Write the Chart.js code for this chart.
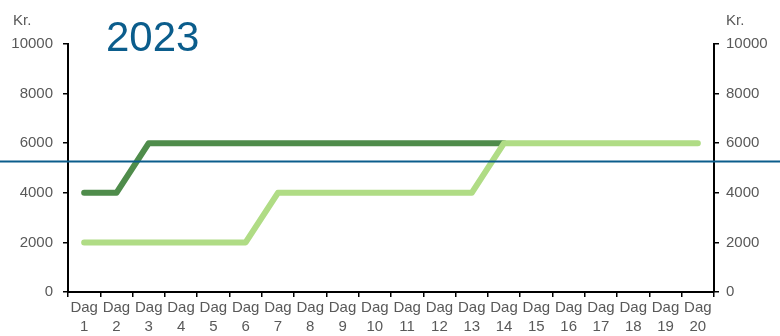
<!DOCTYPE html>
<html>
<head>
<meta charset="utf-8">
<script src="https://cdn.jsdelivr.net/npm/chart.js@4/dist/chart.umd.min.js"></script>
<style>
  html, body { margin: 0; padding: 0; background: #fff; }
  #wrap { width: 780px; height: 336px; }
</style>
</head>
<body>
<div id="wrap"><canvas id="chart"></canvas></div>
<script>
const categories = [
  ["Dag", "1"], ["Dag", "2"], ["Dag", "3"], ["Dag", "4"], ["Dag", "5"],
  ["Dag", "6"], ["Dag", "7"], ["Dag", "8"], ["Dag", "9"], ["Dag", "10"],
  ["Dag", "11"], ["Dag", "12"], ["Dag", "13"], ["Dag", "14"], ["Dag", "15"],
  ["Dag", "16"], ["Dag", "17"], ["Dag", "18"], ["Dag", "19"], ["Dag", "20"]
];
const darkSeries = [4000, 4000, 6000, 6000, 6000, 6000, 6000, 6000, 6000, 6000,
  6000, 6000, 6000, 6000, null, null, null, null, null, null];
const lightSeries = [2000, 2000, 2000, 2000, 2000, 2000, 4000, 4000, 4000, 4000,
  4000, 4000, 4000, 6000, 6000, 6000, 6000, 6000, 6000, 6000];
const yTicks = [0, 2000, 4000, 6000, 8000, 10000];
const referenceLevel = 5300;
const titleText = "2023";
const unitText = "Kr.";

const FONT = "'Liberation Sans', Arial, sans-serif";
const GREY = "#595959";
const BLUE = "#0b5d8c";

// horizontal reference line across the whole canvas, plus title and unit labels
const overlay = {
  id: "overlay",
  afterDatasetsDraw(chart) {
    const { ctx, chartArea, scales } = chart;
    const y = Math.round(scales.y.getPixelForValue(referenceLevel)) + 0.5;
    ctx.save();
    ctx.strokeStyle = BLUE;
    ctx.lineWidth = 2;
    ctx.beginPath();
    ctx.moveTo(0, y);
    ctx.lineTo(chart.width, y);
    ctx.stroke();

    ctx.fillStyle = BLUE;
    ctx.font = "42px " + FONT;
    ctx.textBaseline = "alphabetic";
    ctx.textAlign = "left";
    ctx.fillText(titleText, chartArea.left + 38, 51);

    ctx.fillStyle = GREY;
    ctx.font = "15px " + FONT;
    ctx.fillText(unitText, 13, 25);
    ctx.fillText(unitText, chartArea.right + 12, 25);
    ctx.restore();
  }
};

const axisCommon = {
  min: 0,
  max: 10000,
  afterBuildTicks: (scale) => { scale.ticks = yTicks.map(v => ({ value: v })); },
  border: { color: "#000", width: 2 },
  grid: { drawOnChartArea: false, color: "#000", tickLength: 5, lineWidth: 1.5 },
  ticks: { color: GREY, font: { family: FONT, size: 15 }, callback: (v) => String(v) }
};

new Chart(document.getElementById("chart"), {
  type: "line",
  data: {
    labels: categories,
    datasets: [
      {
        label: "Lys",
        data: lightSeries,
        borderColor: "#b0dc85",
        borderWidth: 6,
        borderCapStyle: "round",
        borderJoinStyle: "round",
        pointRadius: 0,
        tension: 0,
        yAxisID: "y"
      },
      {
        label: "Mørk",
        data: darkSeries,
        borderColor: "#4f8c4b",
        borderWidth: 6,
        borderCapStyle: "round",
        borderJoinStyle: "round",
        pointRadius: 0,
        tension: 0,
        spanGaps: false,
        yAxisID: "y"
      }
    ]
  },
  options: {
    responsive: true,
    maintainAspectRatio: false,
    animation: false,
    layout: { padding: { top: 44, left: 0, right: 0, bottom: 0 } },
    plugins: {
      legend: { display: false },
      tooltip: { enabled: false }
    },
    scales: {
      x: {
        offset: true,
        border: { color: "#000", width: 2 },
        grid: { offset: true, drawOnChartArea: false, color: "#000", tickLength: 5, lineWidth: 1.5 },
        ticks: {
          color: GREY,
          maxRotation: 0,
          autoSkip: false,
          padding: 1,
          font: { family: FONT, size: 15, lineHeight: 1.3 }
        },
        afterFit: (scale) => { scale.height = 44; }
      },
      y: {
        ...axisCommon,
        position: "left",
        ticks: { ...axisCommon.ticks, padding: 10 },
        afterFit: (scale) => { scale.width = 68; }
      },
      y2: {
        ...axisCommon,
        position: "right",
        ticks: { ...axisCommon.ticks, padding: 7 },
        afterFit: (scale) => { scale.width = 66; }
      }
    }
  },
  plugins: [overlay]
});
</script>
</body>
</html>
